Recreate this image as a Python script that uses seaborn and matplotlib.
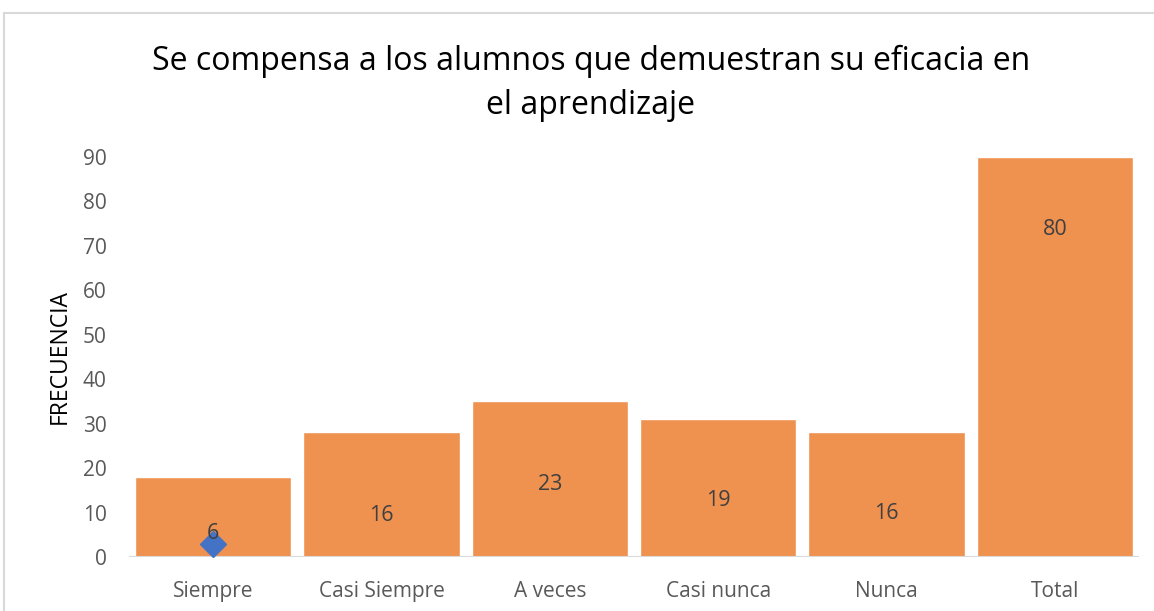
import numpy as np
import pandas as pd
import matplotlib
matplotlib.use("Agg")
import matplotlib.pyplot as plt
import seaborn as sns
from matplotlib.patches import Rectangle

categorias = ["Siempre", "Casi Siempre", "A veces", "Casi nunca", "Nunca", "Total"]
alturas = [18, 28, 35, 31, 28, 90]
etiquetas = ["6", "16", "23", "19", "16", "80"]
etiqueta_y = [5.3, 9.4, 16.4, 12.7, 9.7, 73.7]
punto_cat = ["Siempre"]
punto_val = [3]
yticks = list(range(0, 100, 10))

sns.set_style("white")
plt.rcParams['font.family'] = ['Open Sans', 'DejaVu Sans']

df = pd.DataFrame({"cat": categorias, "val": alturas})

fig = plt.figure(figsize=(11.54, 6.11), dpi=100)
ax = fig.add_axes([0.1118, 0.0884, 0.8752, 0.6551])

sns.barplot(data=df, x="cat", y="val", color="#EF914F", saturation=1,
            width=0.93, ax=ax, zorder=2)

ax.axhline(0, color="#d9d9d9", lw=1.5, zorder=3)

for i, (t, y) in enumerate(zip(etiquetas, etiqueta_y)):
    ax.text(i, y, t, ha="center", va="center", fontsize=15.5, color="#404040", zorder=5)

idx = [categorias.index(c) for c in punto_cat]
ax.plot(idx, punto_val, marker="D", ms=13, color="#4472C4", ls="none", zorder=4)

ax.set_xlim(-0.5, 5.5)
ax.set_ylim(0, 90)
ax.set_yticks(yticks)
ax.set_xlabel("")
ax.set_ylabel("FRECUENCIA", fontsize=16.5, color="black", labelpad=8)
ax.tick_params(axis="both", length=0, labelsize=15, colors="#595959")
ax.tick_params(axis="x", pad=17)
ax.tick_params(axis="y", pad=16)
for s in ax.spines.values():
    s.set_visible(False)

fig.text(591 / 1154, 1 - 61 / 611, "Se compensa a los alumnos que demuestran su eficacia en",
         ha="center", va="center", fontsize=23, color="black")
fig.text(591 / 1154, 1 - 106 / 611, "el aprendizaje",
         ha="center", va="center", fontsize=23, color="black")

fig.patches.append(Rectangle((4 / 1154, -0.1), 1.2, 1 - 13 / 611 + 0.1,
                             transform=fig.transFigure, fill=False,
                             edgecolor="#d9d9d9", lw=1.5))

fig.savefig("out.png", dpi=100)
